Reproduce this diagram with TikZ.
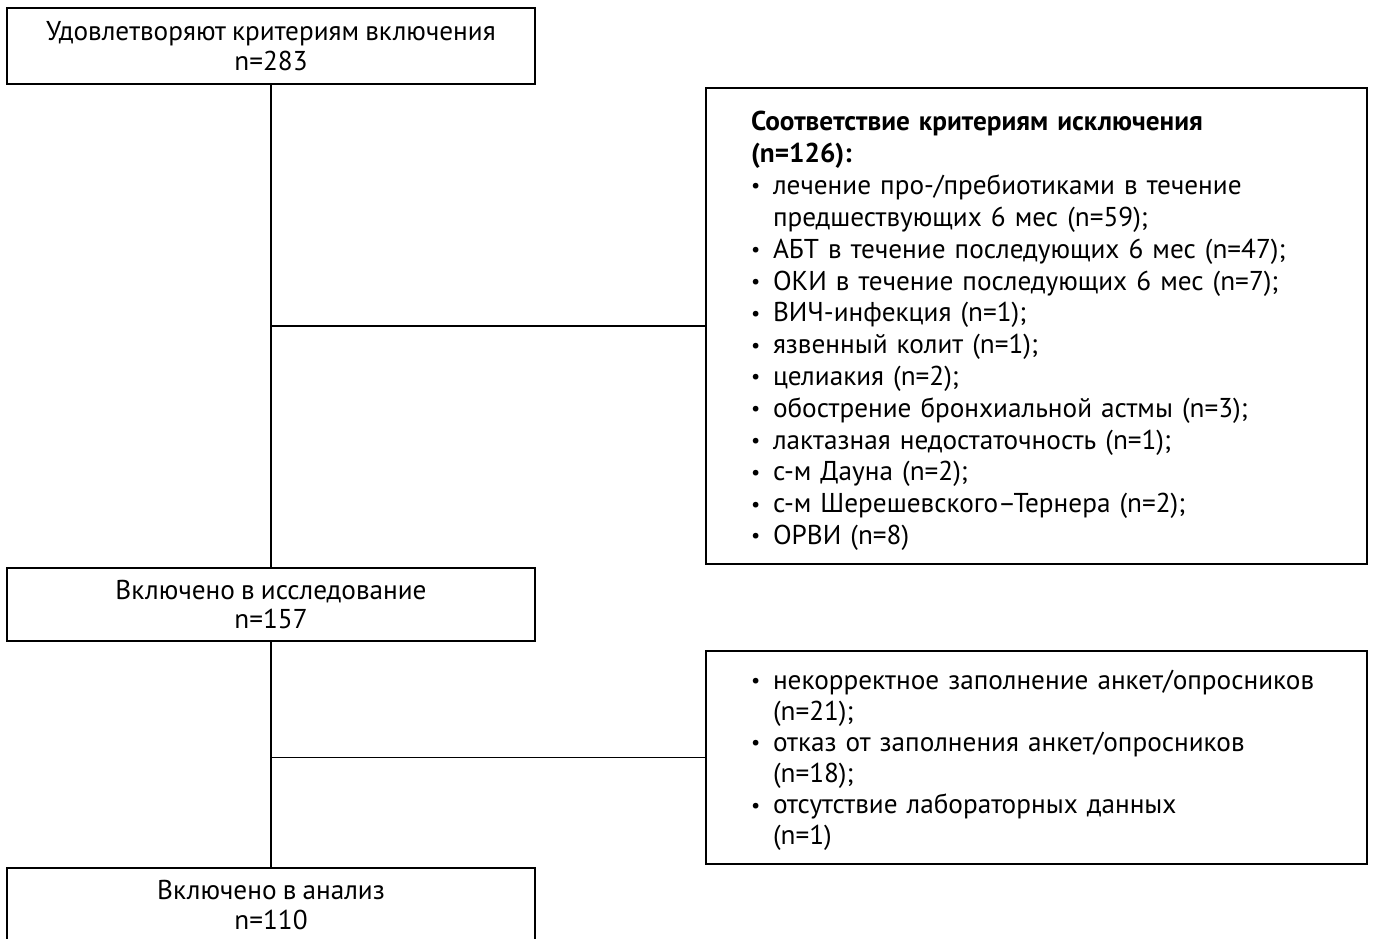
\documentclass[tikz,border=0pt]{standalone}
\usepackage{fontspec}
\setmainfont[WordSpace=0.85]{PT Sans}
\usepackage{tikz}
\usetikzlibrary{positioning}
\tikzstyle{block} = [rectangle, draw, line width=0.9pt, align=center, minimum width=10.56cm, inner sep=0pt, outer sep=0pt, font=\fontsize{15.5pt}{17pt}\selectfont]
\tikzstyle{list} = [rectangle, draw, line width=0.9pt, align=left, text width=11.42cm, minimum width=13.22cm, inner xsep=0.9cm, inner ysep=0pt, outer sep=0pt, font=\fontsize{15.5pt}{18.1pt}\selectfont]
\tikzstyle{line} = [draw, line width=0.9pt]
\newcommand{\bitem}[1]{\par\hangindent=0.44cm\hangafter=1\noindent\makebox[0.44cm][l]{\raisebox{0.06em}{\scalebox{0.75}{\textbullet}}}#1\par}

\begin{document}
\begin{tikzpicture}
    \useasboundingbox (0,0) rectangle (27.46,-18.76);
    \node [block, minimum height=1.52cm, anchor=north west] (incl) at (0.14,-0.16) {Удовлетворяют критериям включения\\n=283};
    \node [block, minimum height=1.46cm, below=9.68cm of incl] (study) {Включено в исследование\\n=157};
    \node [block, minimum height=1.48cm, below=4.54cm of study] (analysis) {Включено в анализ\\n=110};
    \node [list, minimum height=9.52cm, below right=1.6cm and 3.42cm of incl.north east] (excl) {\textbf{Соответствие критериям исключения\\(n=126):}
        \bitem{лечение про-/пребиотиками в течение\newline предшествующих 6 мес (n=59);}
        \bitem{АБТ в течение последующих 6 мес (n=47);}
        \bitem{ОКИ в течение последующих 6 мес (n=7);}
        \bitem{ВИЧ-инфекция (n=1);}
        \bitem{язвенный колит (n=1);}
        \bitem{целиакия (n=2);}
        \bitem{обострение бронхиальной астмы (n=3);}
        \bitem{лактазная недостаточность (n=1);}
        \bitem{с-м Дауна (n=2);}
        \bitem{с-м Шерешевского–Тернера (n=2);}
        \bitem{ОРВИ (n=8)}\kern-0.2cm\relax};
    \node [list, minimum height=4.26cm, font=\fontsize{15.5pt}{17.7pt}\selectfont, below right=1.66cm and 3.42cm of study.north east] (dropout) {\bitem{некорректное заполнение анкет/опросников\newline (n=21);}
        \bitem{отказ от заполнения анкет/опросников\newline (n=18);}
        \bitem{отсутствие лабораторных данных\newline (n=1)}\kern0.12cm\relax};
    \coordinate (j1) at (incl.south |- excl.west);
    \coordinate (j2) at (study.south |- dropout.west);
    \path [line] (incl) -- (study);
    \path [line] (study) -- (analysis);
    \path [line] (j1) -- (excl);
    \path [line] (j2) -- (dropout);
\end{tikzpicture}
\end{document}
